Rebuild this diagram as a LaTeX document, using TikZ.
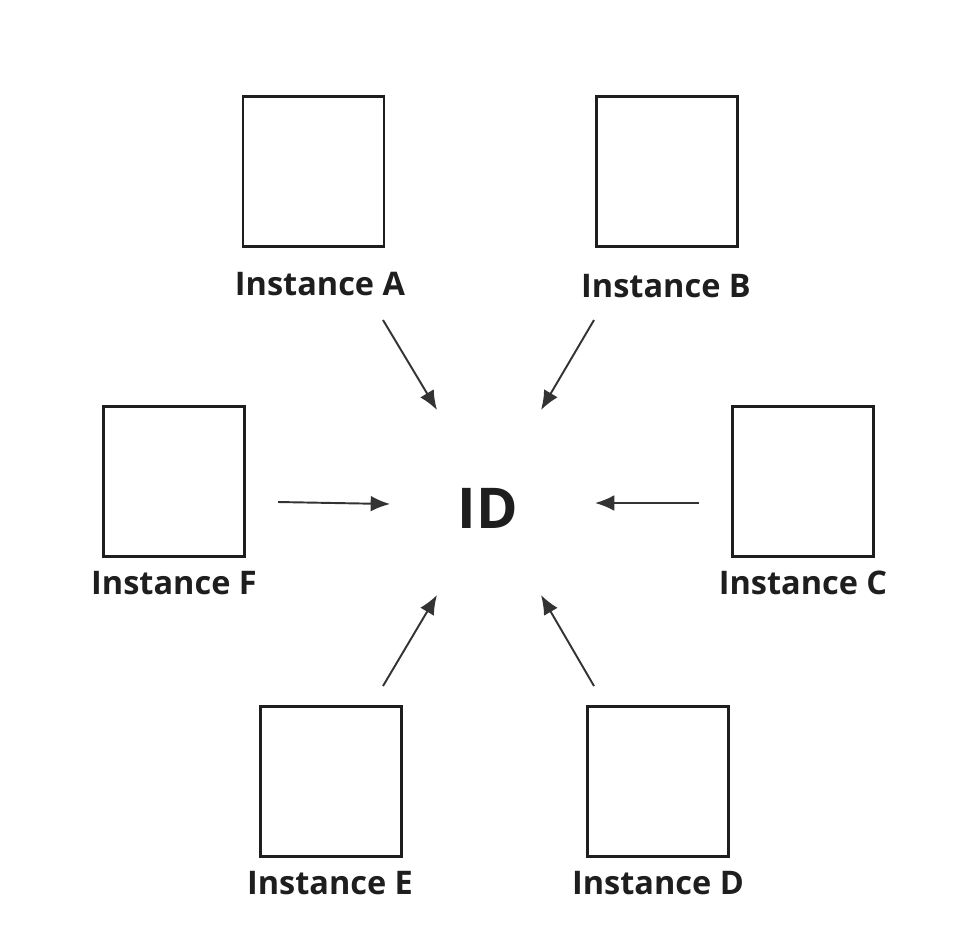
\documentclass[tikz,border=0pt]{standalone}
\usepackage{fontspec}
\setmainfont{Open Sans}
\usetikzlibrary{arrows.meta}
\definecolor{ink}{HTML}{1E1E1E}
\definecolor{arr}{HTML}{333333}
\begin{document}
\begin{tikzpicture}[x=0.02cm,y=-0.02cm,
  inst/.style={draw=ink,line width=1.7pt,minimum width=141*0.02cm,minimum height=150*0.02cm,inner sep=0pt},
  lbl/.style={text=ink,font=\fontsize{18.5}{22}\selectfont\bfseries,inner sep=0pt},
  conn/.style={draw=arr,line width=1.1pt,-{Latex[length=11pt,width=9pt]}}]
\useasboundingbox (0,0) rectangle (966,948);
% boxes
\node[inst] (bA) at (313.5,171) {};
\node[inst] (bB) at (666.5,171) {};
\node[inst] (bF) at (174,481) {};
\node[inst] (bC) at (803,481) {};
\node[inst] (bE) at (331,781) {};
\node[inst] (bD) at (658,781) {};
% labels
\node[lbl] (lA) at (320,284) {Instance A};
\node[lbl] (lB) at (666,286) {Instance B};
\node[lbl] (lF) at (174,583) {Instance F};
\node[lbl] (lC) at (803,583) {Instance C};
\node[lbl] (lE) at (330,883) {Instance E};
\node[lbl] (lD) at (658,883) {Instance D};
% centre
\node[text=ink,font=\fontsize{32}{38}\selectfont\bfseries,inner sep=0pt] (id) at (488,508) {ID};
% arrow endpoints
\coordinate (sA) at (383,320); \coordinate (tA) at (437,410);
\coordinate (sB) at (594,320); \coordinate (tB) at (541,410);
\coordinate (sF) at (278,502); \coordinate (tF) at (390,504);
\coordinate (sC) at (699,503); \coordinate (tC) at (595,503);
\coordinate (sE) at (383,686); \coordinate (tE) at (437,595);
\coordinate (sD) at (594,686); \coordinate (tD) at (541,595);
\draw[conn] (sA) -- (tA);
\draw[conn] (sB) -- (tB);
\draw[conn] (sF) -- (tF);
\draw[conn] (sC) -- (tC);
\draw[conn] (sE) -- (tE);
\draw[conn] (sD) -- (tD);
\end{tikzpicture}
\end{document}
